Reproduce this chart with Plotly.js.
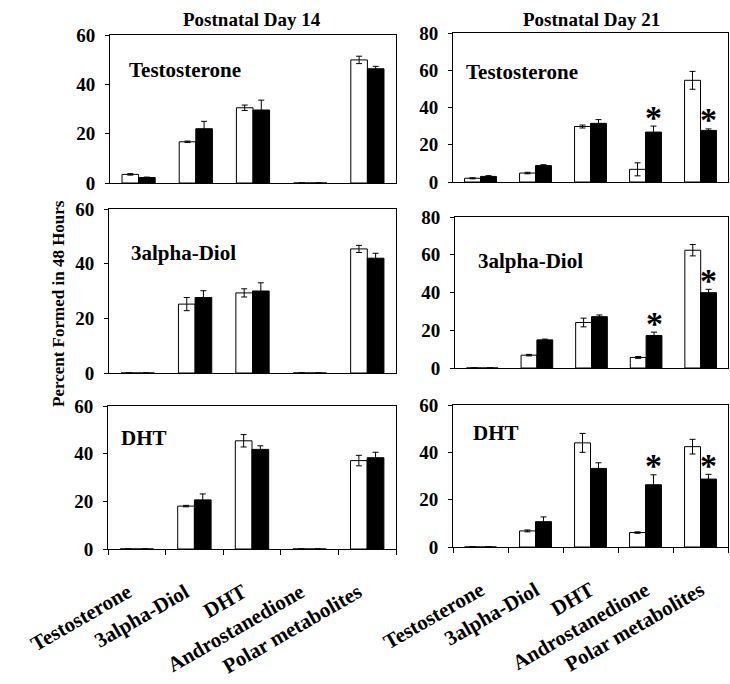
<!DOCTYPE html>
<html>
<head>
<meta charset="utf-8">
<script src="https://cdn.plot.ly/plotly-3.0.1.min.js"></script>
<style>html,body{margin:0;padding:0;background:#fff;}#chart{width:730px;height:684px;}</style>
</head>
<body>
<div id="chart"></div>
<script>
// ---- data ----
var categories = ["Testosterone", "3alpha-Diol", "DHT", "Androstanedione", "Polar metabolites"];

// Postnatal day 14
var d14_testo_ctrl = [3.5, 16.7, 30.5, 0, 49.9];
var d14_testo_ctrl_err = [0.3, 0.3, 1.1, 0, 1.5];
var d14_testo_trt = [2.2, 22.0, 29.6, 0, 46.3];
var d14_testo_trt_err = [0.2, 3.0, 4.0, 0, 1.0];

var d14_diol_ctrl = [0, 25.2, 29.3, 0, 45.4];
var d14_diol_ctrl_err = [0, 2.4, 1.5, 0, 1.3];
var d14_diol_trt = [0, 27.6, 30.0, 0, 42.0];
var d14_diol_trt_err = [0, 2.5, 3.0, 0, 1.8];

var d14_dht_ctrl = [0, 18.0, 45.4, 0, 37.1];
var d14_dht_ctrl_err = [0, 0.3, 2.6, 0, 2.2];
var d14_dht_trt = [0, 20.6, 41.8, 0, 38.3];
var d14_dht_trt_err = [0, 2.5, 1.5, 0, 2.3];

// Postnatal day 21
var d21_testo_ctrl = [2.0, 4.8, 29.8, 6.8, 54.6];
var d21_testo_ctrl_err = [0.3, 0.4, 0.8, 3.5, 4.8];
var d21_testo_trt = [3.0, 8.8, 31.5, 26.8, 27.7];
var d21_testo_trt_err = [0.4, 0.5, 2.0, 3.2, 0.8];
var d21_testo_sig = [0, 0, 0, 1, 1];

var d21_diol_ctrl = [0, 6.8, 24.1, 5.6, 62.4];
var d21_diol_ctrl_err = [0, 0.4, 2.3, 0.5, 3.0];
var d21_diol_trt = [0, 14.9, 27.2, 17.2, 39.9];
var d21_diol_trt_err = [0, 0.4, 0.9, 1.8, 1.8];
var d21_diol_sig = [0, 0, 0, 1, 1];

var d21_dht_ctrl = [0, 6.8, 44.0, 6.1, 42.4];
var d21_dht_ctrl_err = [0, 0.4, 4.0, 0.3, 3.1];
var d21_dht_trt = [0, 10.7, 33.2, 26.3, 28.7];
var d21_dht_trt_err = [0, 2.0, 2.4, 4.2, 2.0];
var d21_dht_sig = [0, 0, 0, 1, 1];

var panelTitles = ["Testosterone", "Testosterone", "3alpha-Diol", "3alpha-Diol", "DHT", "DHT"];
var columnTitles = ["Postnatal Day 14", "Postnatal Day 21"];
var yAxisTitle = "Percent Formed in 48 Hours";

// ---- build ----
var W = 730, H = 684;
function px(x) { return x / W; }
function py(y) { return 1 - y / H; }
var SERIF = "Liberation Serif, Times New Roman, serif";

var panels = [
  {c: d14_testo_ctrl, ce: d14_testo_ctrl_err, t: d14_testo_trt, te: d14_testo_trt_err, sig: null},
  {c: d21_testo_ctrl, ce: d21_testo_ctrl_err, t: d21_testo_trt, te: d21_testo_trt_err, sig: d21_testo_sig},
  {c: d14_diol_ctrl, ce: d14_diol_ctrl_err, t: d14_diol_trt, te: d14_diol_trt_err, sig: null},
  {c: d21_diol_ctrl, ce: d21_diol_ctrl_err, t: d21_diol_trt, te: d21_diol_trt_err, sig: d21_diol_sig},
  {c: d14_dht_ctrl, ce: d14_dht_ctrl_err, t: d14_dht_trt, te: d14_dht_trt_err, sig: null},
  {c: d21_dht_ctrl, ce: d21_dht_ctrl_err, t: d21_dht_trt, te: d21_dht_trt_err, sig: d21_dht_sig}
];

// pixel geometry of each panel [x0, x1, yTop, yBottom]
var geom = [
  [110, 396, 35, 183], [453, 728, 33, 182],
  [109, 396, 209, 373], [455, 728, 217, 368],
  [108, 396, 406, 549], [453, 728, 405, 547]
];
var yMax = [60, 80, 60, 80, 60, 60];
var labelPos = [[127, 70], [464, 72], [129, 253], [476, 261], [119, 438], [471, 433]];
var labelShift = [-9, -9, -9, -9, -9, 0];

var traces = [];
var layout = {
  width: W, height: H,
  margin: {l: 0, r: 0, t: 0, b: 0},
  paper_bgcolor: "#fff", plot_bgcolor: "#fff",
  showlegend: false,
  barmode: "group", bargap: 0.42, bargroupgap: 0,
  font: {family: SERIF, color: "#000"},
  annotations: []
};

panels.forEach(function (p, i) {
  var n = i + 1;
  var xa = n === 1 ? "x" : "x" + n;
  var ya = n === 1 ? "y" : "y" + n;
  var errStyle = {type: "data", visible: true, color: "#000", thickness: 1, width: 3};
  traces.push({
    type: "bar", x: categories, y: p.c, xaxis: xa, yaxis: ya,
    marker: {color: "#fff", line: {color: "#000", width: 1}},
    error_y: Object.assign({array: p.ce}, errStyle)
  });
  traces.push({
    type: "bar", x: categories, y: p.t, xaxis: xa, yaxis: ya,
    marker: {color: "#000", line: {color: "#000", width: 1}},
    error_y: Object.assign({array: p.te}, errStyle)
  });
  if (p.sig) {
    p.sig.forEach(function (s, k) {
      if (s) {
        layout.annotations.push({
          xref: xa, yref: ya, x: categories[k], y: p.t[k] + p.te[k],
          xanchor: "center", yanchor: "middle", xshift: 8, yshift: 9,
          showarrow: false, text: "<b>*</b>",
          font: {family: SERIF, size: 34, color: "#000"}
        });
      }
    });
  }
  var g = geom[i];
  var bottom = i >= 4;
  layout["xaxis" + (n === 1 ? "" : n)] = {
    domain: [px(g[0]), px(g[1])], anchor: ya,
    type: "category", range: [-0.5, 4.5],
    showline: true, mirror: true, linecolor: "#000", linewidth: 1,
    showgrid: false, zeroline: false, fixedrange: true,
    ticks: bottom ? "outside" : "", ticklen: 5, tickcolor: "#000",
    tickson: "boundaries",
    showticklabels: bottom, tickangle: -30,
    ticklabelstandoff: 22, ticklabelshift: labelShift[i],
    tickfont: {family: SERIF, size: 21, color: "#000", weight: "bold"}
  };
  layout["yaxis" + (n === 1 ? "" : n)] = {
    domain: [py(g[3]), py(g[2])], anchor: xa,
    range: [0, yMax[i]], dtick: 20,
    showline: true, mirror: true, linecolor: "#000", linewidth: 1,
    showgrid: false, zeroline: false, fixedrange: true,
    ticks: "outside", ticklen: 4, tickcolor: "#000",
    ticklabelstandoff: 6,
    tickfont: {family: SERIF, size: 19, color: "#000", weight: "bold"}
  };
  layout.annotations.push({
    xref: "paper", yref: "paper", x: px(labelPos[i][0]), y: py(labelPos[i][1]),
    xanchor: "left", yanchor: "middle", showarrow: false,
    text: "<b>" + panelTitles[i] + "</b>",
    font: {family: SERIF, size: 21, color: "#000"}
  });
});

layout.annotations.push({
  xref: "paper", yref: "paper", x: px(252), y: py(20), xanchor: "center", yanchor: "middle",
  showarrow: false, text: "<b>" + columnTitles[0] + "</b>", font: {family: SERIF, size: 19, color: "#000"}
});
layout.annotations.push({
  xref: "paper", yref: "paper", x: px(591), y: py(19), xanchor: "center", yanchor: "middle",
  showarrow: false, text: "<b>" + columnTitles[1] + "</b>", font: {family: SERIF, size: 19, color: "#000"}
});
layout.annotations.push({
  xref: "paper", yref: "paper", x: px(58), y: py(304), xanchor: "center", yanchor: "middle",
  textangle: -90, showarrow: false, text: "<b>" + yAxisTitle + "</b>",
  font: {family: SERIF, size: 17, color: "#000"}
});

Plotly.newPlot("chart", traces, layout, {staticPlot: true, displayModeBar: false});
</script>
</body>
</html>
